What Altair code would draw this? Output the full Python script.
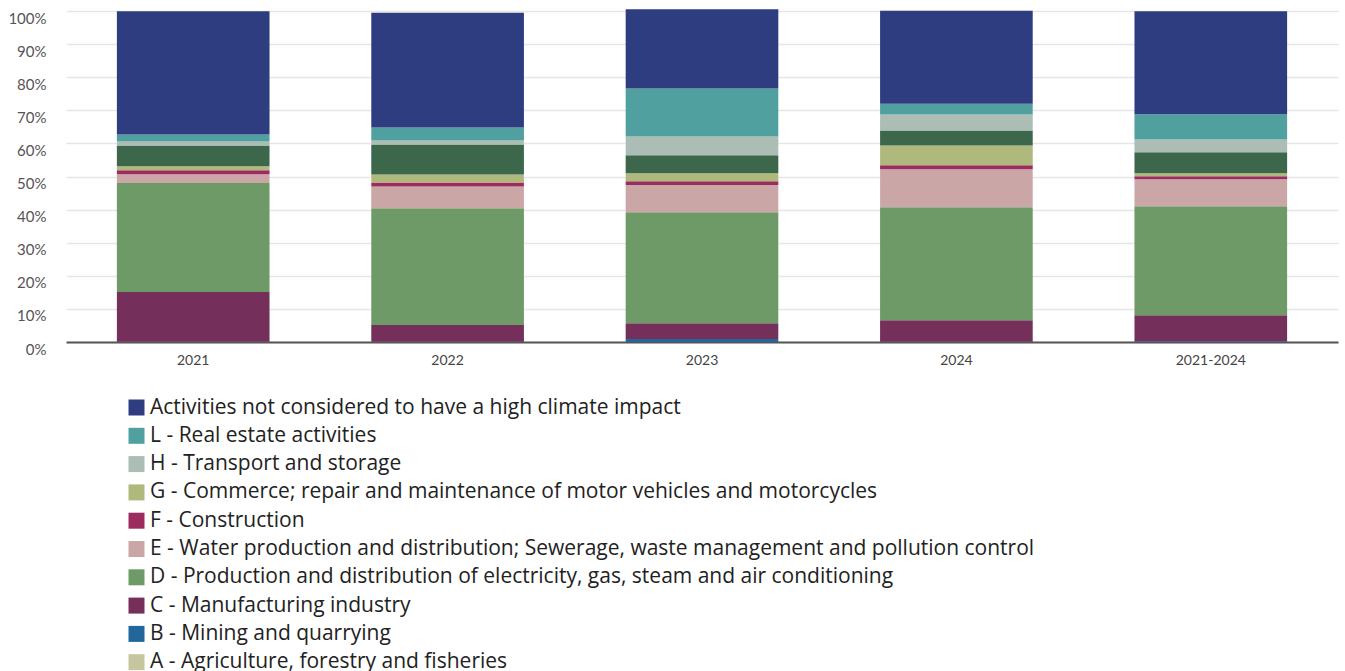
import altair as alt
import pandas as pd

# Periods on the x axis
periods = ["2021", "2022", "2023", "2024", "2021-2024"]

# Sectors, in stacking order from the bottom up
sectors = [
    "A - Agriculture, forestry and fisheries",
    "B - Mining and quarrying",
    "C - Manufacturing industry",
    "D - Production and distribution of electricity, gas, steam and air conditioning",
    "E - Water production and distribution; Sewerage, waste management and pollution control",
    "F - Construction",
    "G - Commerce; repair and maintenance of motor vehicles and motorcycles",
    "Other",
    "H - Transport and storage",
    "L - Real estate activities",
    "Activities not considered to have a high climate impact",
]

colors = [
    "#c5c59f",  # A
    "#23669a",  # B
    "#742f5b",  # C
    "#6e9a67",  # D
    "#cba6a6",  # E
    "#9c2b60",  # F
    "#afb97c",  # G
    "#3d674a",  # Other
    "#abbdb4",  # H
    "#50a0a0",  # L
    "#2e3d7f",  # not high impact
]

# Share of the portfolio (%) per sector, one list per period
share_2021 = [0.0, 0.1, 15.0, 32.9, 2.7, 1.2, 1.2, 6.3, 1.2, 2.1, 37.2]
share_2022 = [0.0, 0.1, 5.0, 35.3, 6.6, 1.2, 2.4, 9.1, 1.2, 3.9, 34.7]
share_2023 = [0.0, 0.9, 4.8, 33.5, 8.2, 1.2, 2.4, 5.4, 5.7, 14.5, 23.9]
share_2024 = [0.0, 0.1, 6.5, 34.1, 11.5, 1.2, 6.0, 4.5, 4.8, 3.3, 28.1]
share_all = [0.0, 0.2, 7.9, 32.9, 8.2, 0.9, 0.9, 6.3, 3.9, 7.6, 31.1]

shares = [share_2021, share_2022, share_2023, share_2024, share_all]

rows = []
for period, vals in zip(periods, shares):
    for i, (sector, v) in enumerate(zip(sectors, vals)):
        rows.append({"period": period, "sector": sector, "share": v, "stack": i})
df = pd.DataFrame(rows)

# Legend lists the sectors top of stack first
legend_values = [s for s in reversed(sectors) if s != "Other"]

FONT = "Lato"
LEGEND_FONT = "Open Sans"

chart = (
    alt.Chart(df)
    .mark_bar()
    .encode(
        x=alt.X(
            "period:N",
            sort=periods,
            title=None,
            scale=alt.Scale(paddingInner=0.4, paddingOuter=0.2),
            axis=alt.Axis(
                labelAngle=0,
                labelFont=FONT,
                labelFontSize=14,
                labelColor="#444444",
                labelPadding=11,
                ticks=False,
                domainColor="#555555",
                domainWidth=2,
                grid=False,
            ),
        ),
        y=alt.Y(
            "share:Q",
            stack="zero",
            title=None,
            scale=alt.Scale(domain=[0, 100], nice=False),
            axis=alt.Axis(
                values=list(range(0, 101, 10)),
                labelExpr="datum.value + '%'",
                labelFont=FONT,
                labelFontSize=15,
                labelColor="#555555",
                labelOffset=7,
                labelPadding=20,
                ticks=False,
                domain=False,
                gridColor="#e6e6e6",
                gridWidth=1.5,
            ),
        ),
        color=alt.Color(
            "sector:N",
            scale=alt.Scale(domain=sectors, range=colors),
            legend=alt.Legend(
                title=None,
                values=legend_values,
                orient="none",
                legendX=60,
                legendY=386,
                direction="vertical",
                symbolType="square",
                symbolSize=256,
                symbolStrokeWidth=0,
                labelFont=LEGEND_FONT,
                labelFontSize=21,
                labelColor="#222222",
                labelLimit=1200,
                rowPadding=6.3,
                labelOffset=3,
            ),
        ),
        order=alt.Order("stack:Q", sort="ascending"),
    )
    .properties(
        width=1272,
        height=331,
        padding={"left": 66, "top": 11, "right": 7, "bottom": 329},
        autosize=alt.AutoSizeParams(type="none"),
    )
    .configure_view(stroke=None)
)

chart.save("out.html", embed_options={"renderer": "svg", "actions": False})
